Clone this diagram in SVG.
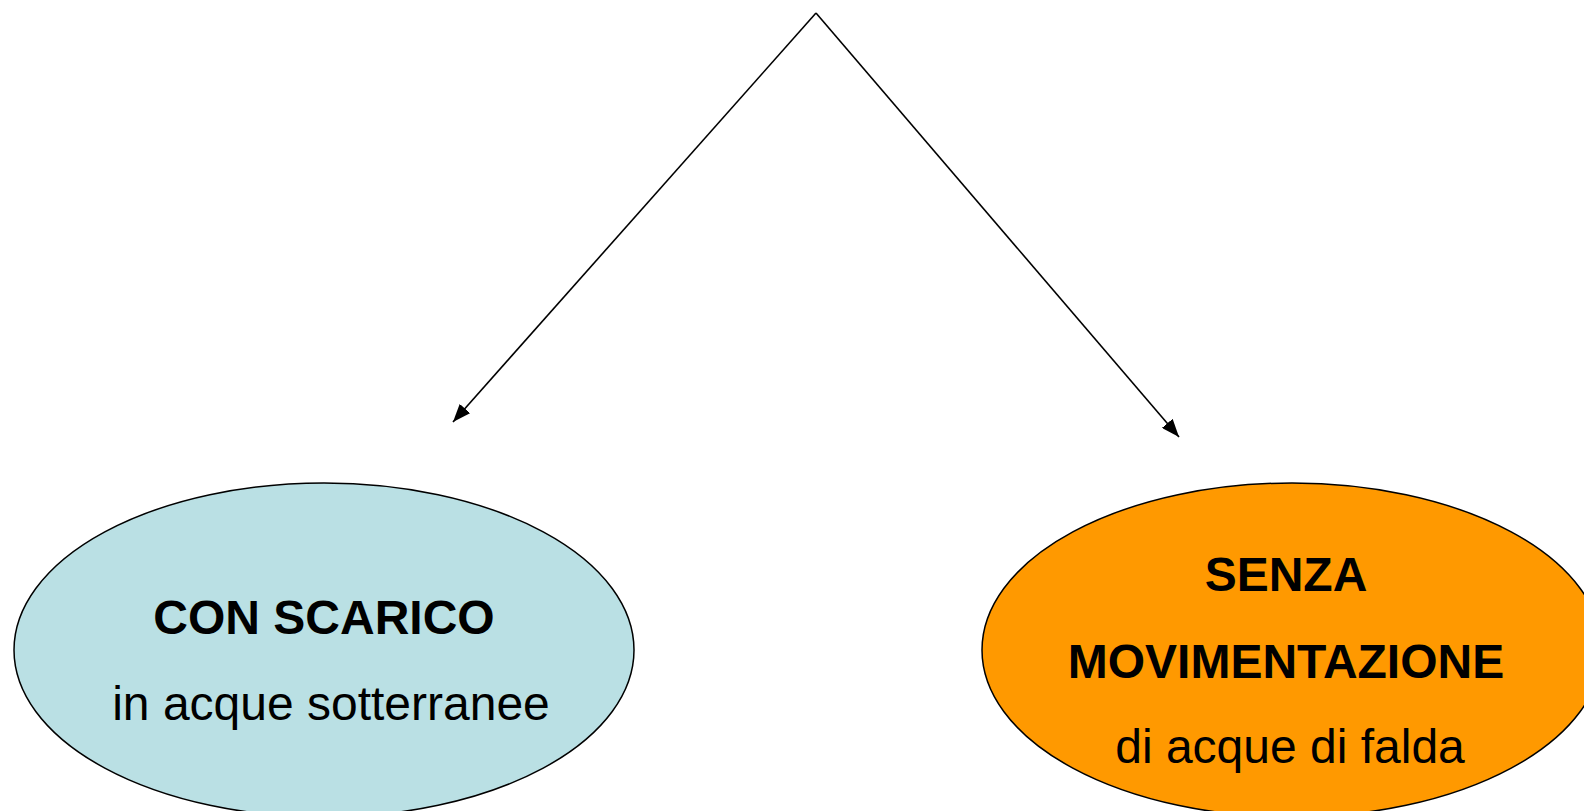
<svg xmlns="http://www.w3.org/2000/svg" width="1584" height="811" viewBox="0 0 1584 811">
<style>
.b{font-family:"Liberation Sans",Arial,sans-serif;font-weight:bold;font-size:48px;fill:#000;text-anchor:middle}
.r{font-family:"Liberation Sans",Arial,sans-serif;font-size:48px;fill:#000;text-anchor:middle}
.e{stroke:#000;stroke-width:1.5}
.c{stroke:#000;stroke-width:1.6;fill:none}
</style>
<defs>
<marker id="ah" viewBox="0 0 18 14" refX="18" refY="7" markerWidth="18" markerHeight="14" markerUnits="userSpaceOnUse" orient="auto">
<path d="M0,0 L18,7 L0,14 z" fill="#000"/>
</marker>
</defs>
<rect width="1584" height="811" fill="#fff"/>
<g id="connectors">
<line class="c" x1="816" y1="13" x2="453" y2="422" marker-end="url(#ah)"/>
<line class="c" x1="816" y1="13" x2="1179" y2="437" marker-end="url(#ah)"/>
</g>
<g id="node-con-scarico">
<ellipse class="e" cx="324" cy="650" rx="310" ry="167" fill="#BAE0E4"/>
<text class="b" x="324" y="634">CON SCARICO</text>
<text class="r" x="331" y="720">in acque sotterranee</text>
</g>
<g id="node-senza">
<ellipse class="e" cx="1292" cy="650" rx="310" ry="167" fill="#FF9900"/>
<text class="b" x="1286" y="591">SENZA</text>
<text class="b" x="1286" y="678">MOVIMENTAZIONE</text>
<text class="r" x="1290" y="763">di acque di falda</text>
</g>
</svg>
